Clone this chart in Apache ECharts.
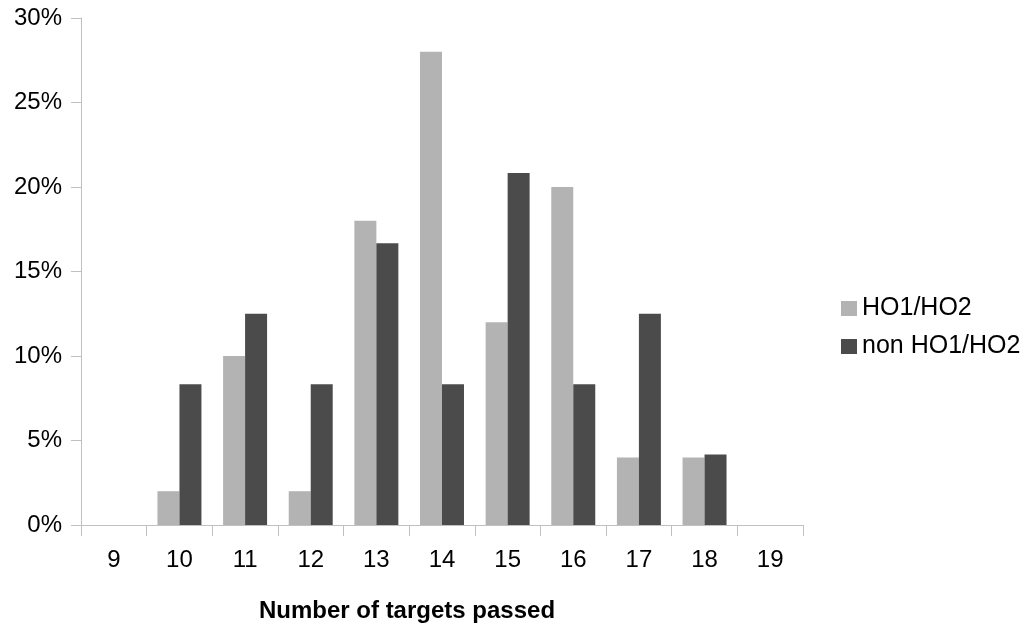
<!DOCTYPE html>
<html><head><meta charset="utf-8">
<script src="https://cdn.jsdelivr.net/npm/echarts@6/dist/echarts.min.js"></script>
<style>html,body{margin:0;padding:0;background:#fff}#c{width:1028px;height:628px}</style>
</head><body><div id="c"></div>
<script>
const categories = ['9','10','11','12','13','14','15','16','17','18','19'];
const ho = [0, 2, 10, 2, 18, 28, 12, 20, 4, 4, 0];
const nonHo = [0, 8.33, 12.5, 8.33, 16.67, 8.33, 20.83, 8.33, 12.5, 4.17, 0];
const seriesNames = ['HO1/HO2', 'non HO1/HO2'];
const xTitle = 'Number of targets passed';

const font = 'Liberation Sans, Arial, sans-serif';
const chart = echarts.init(document.getElementById('c'));
chart.setOption({
  animation: false,
  backgroundColor: '#fff',
  grid: {left: 81, right: 225, top: 18, bottom: 103, containLabel: false},
  legend: {
    orient: 'vertical', left: 836, top: 291, itemWidth: 16, itemHeight: 15, itemGap: 13,
    icon: 'rect',
    textStyle: {fontFamily: font, fontSize: 25, color: '#000'},
    data: seriesNames
  },
  xAxis: {
    type: 'category', data: categories,
    axisLine: {lineStyle: {color: '#c0c0c0', width: 1}},
    axisTick: {show: true, length: 11, lineStyle: {color: '#c0c0c0'}},
    axisLabel: {fontFamily: font, fontSize: 24, color: '#000', margin: 23},
    name: xTitle, nameLocation: 'middle', nameGap: 74,
    nameTextStyle: {fontFamily: font, fontSize: 24, fontWeight: 'bold', color: '#000', padding: [0, 70, 0, 0]}
  },
  yAxis: {
    type: 'value', min: 0, max: 30, interval: 5,
    axisLine: {show: true, lineStyle: {color: '#c0c0c0', width: 1}},
    axisTick: {show: true, length: 10, lineStyle: {color: '#c0c0c0'}},
    splitLine: {show: false},
    axisLabel: {fontFamily: font, fontSize: 24, color: '#000', margin: 19, formatter: '{value}%'}
  },
  series: [
    {name: seriesNames[0], type: 'bar', data: ho, barGap: '0%', barCategoryGap: '33%', itemStyle: {color: '#b3b3b3'}},
    {name: seriesNames[1], type: 'bar', data: nonHo, barGap: '0%', barCategoryGap: '33%', itemStyle: {color: '#4b4b4b'}}
  ]
});
</script></body></html>
